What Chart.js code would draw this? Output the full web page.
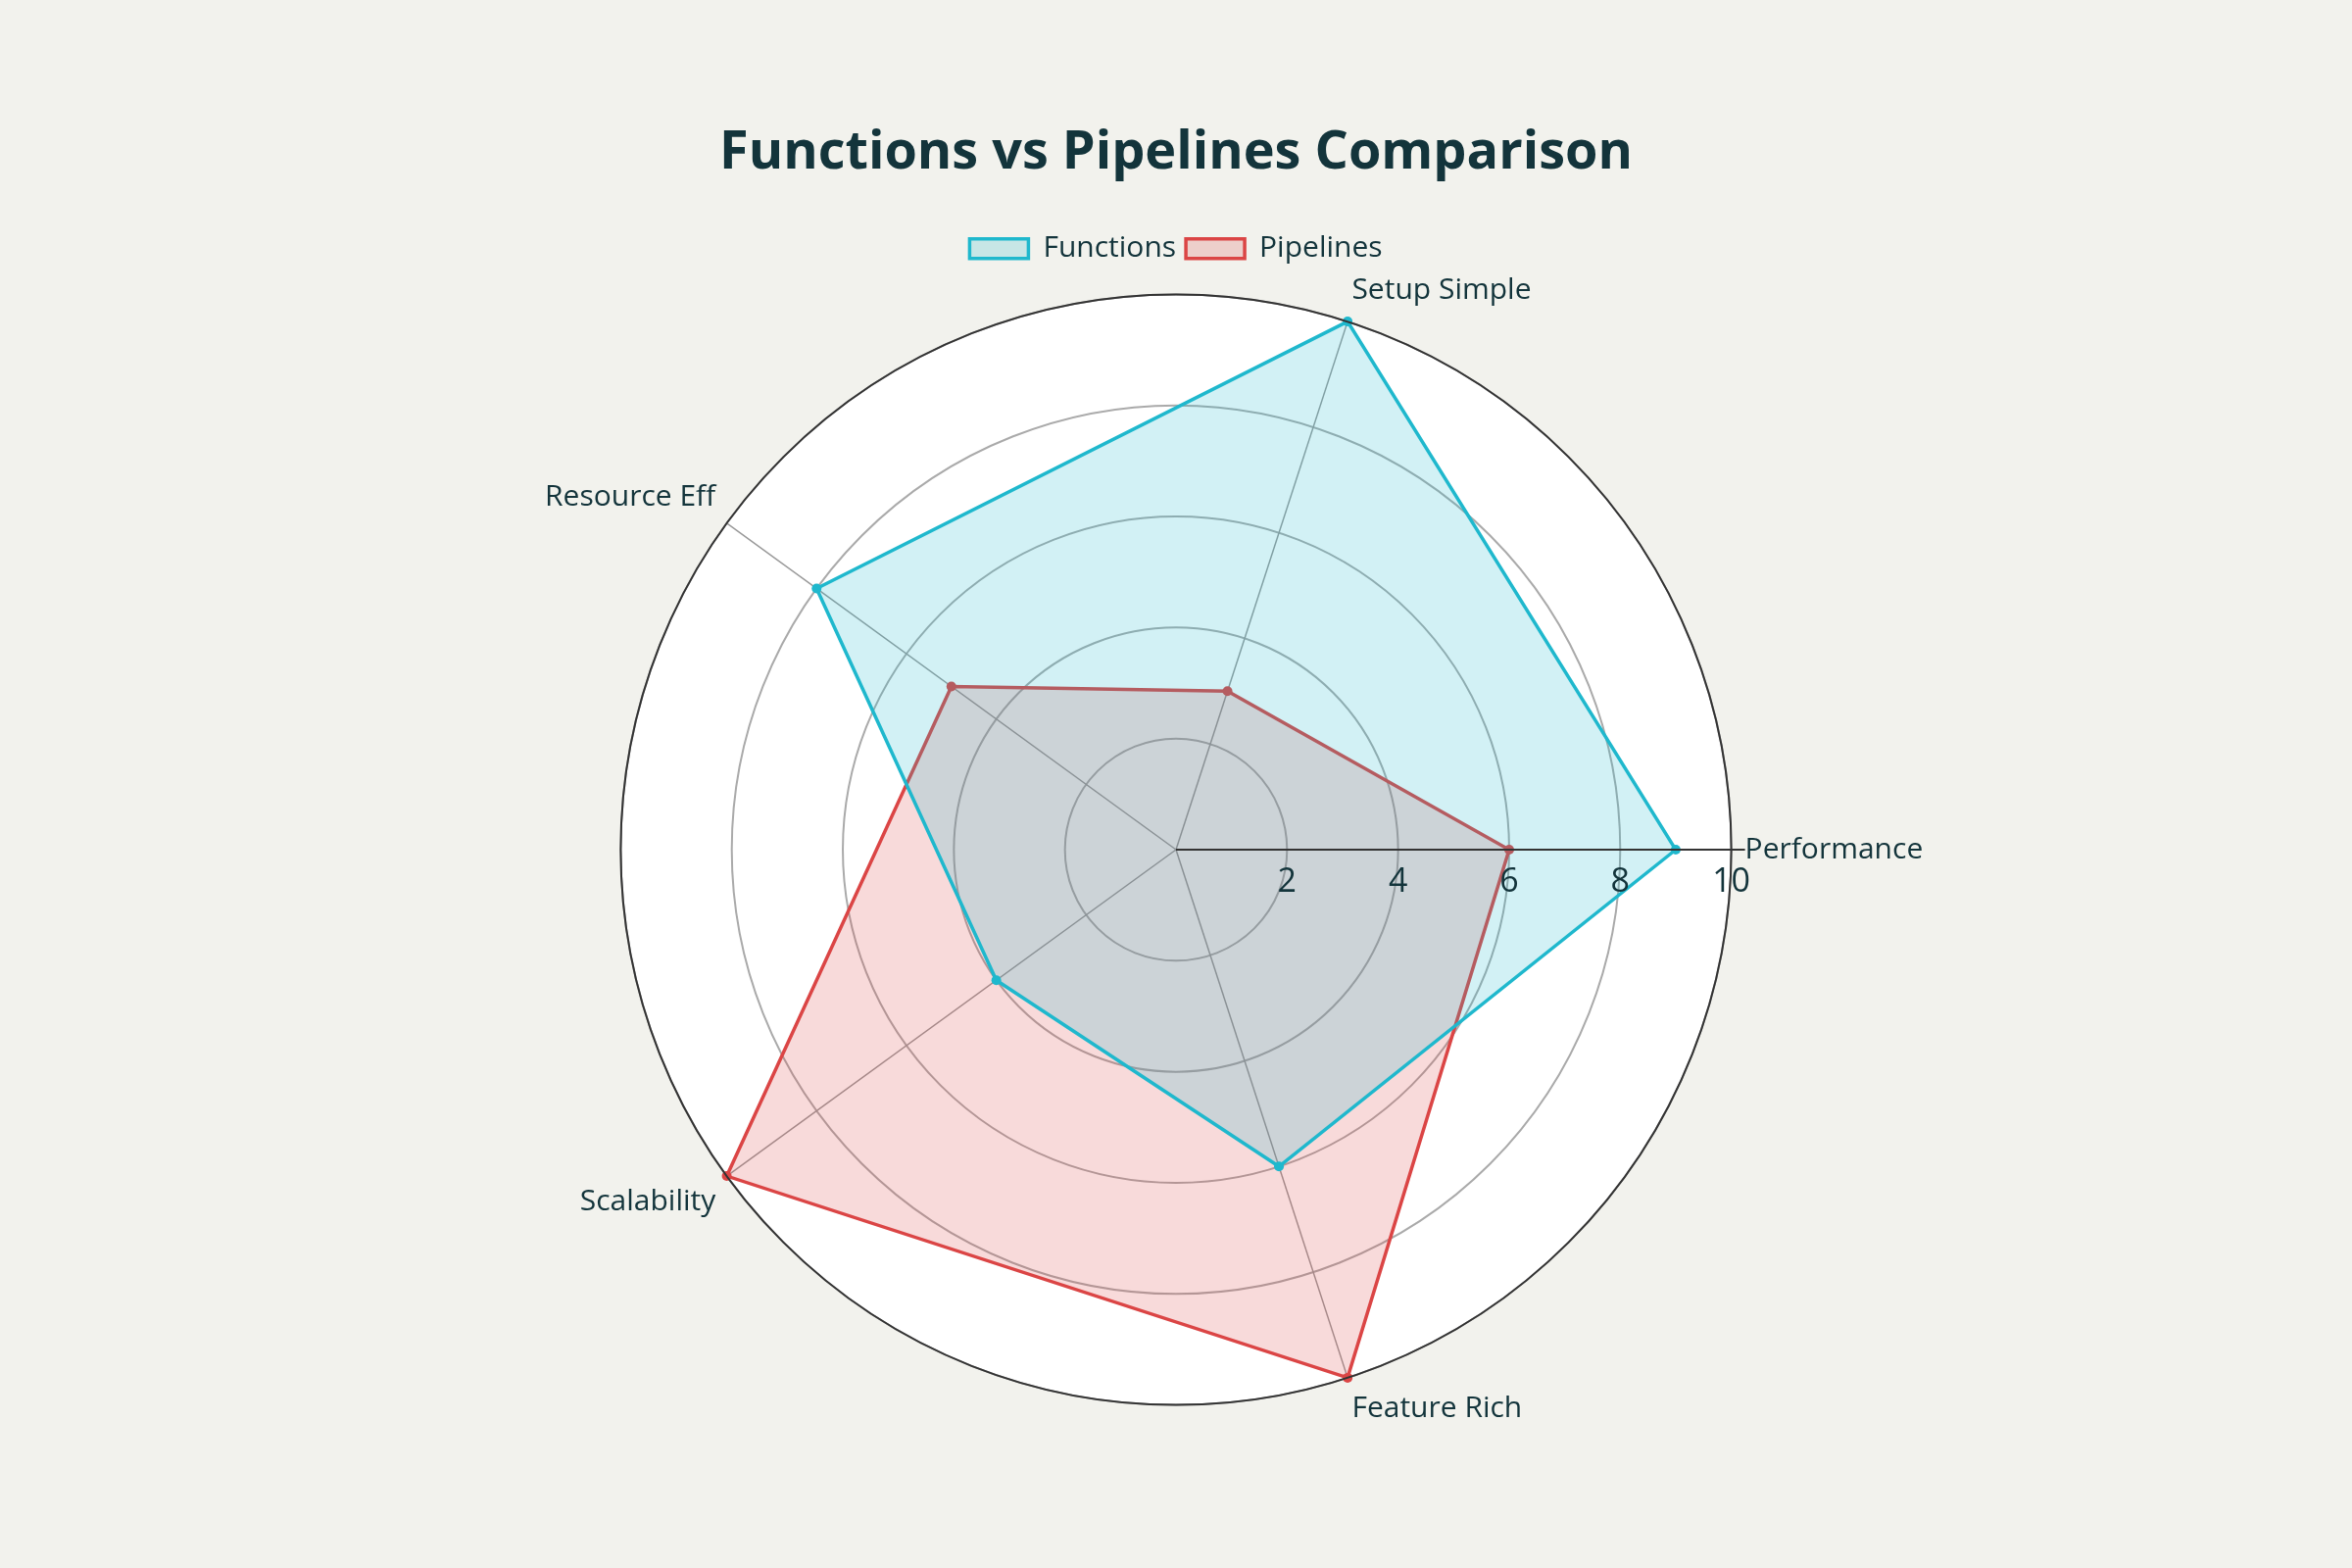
<!DOCTYPE html>
<html><head><meta charset="utf-8">
<script src="https://cdn.jsdelivr.net/npm/chart.js@4"></script>
<style>html,body{margin:0;padding:0;background:#f2f2ed;}#w{width:2400px;height:1600px;}</style>
</head><body><div id="w"><canvas id="c"></canvas></div>
<script>
const categories = ["Performance","Feature Rich","Scalability","Resource Eff","Setup Simple"];
const functionsValues = [9,6,4,8,10];
const pipelinesValues = [6,10,10,5,3];
const tickLabels = [2,4,6,8,10];
const txt = '#13343b';
const bgPlugin = {
  id:'bg',
  beforeDraw(chart){
    const ctx=chart.ctx, s=chart.scales.r;
    ctx.save();
    ctx.fillStyle='#f2f2ed';ctx.fillRect(0,0,chart.width,chart.height);
    ctx.beginPath();ctx.arc(s.xCenter,s.yCenter,s.drawingArea,0,Math.PI*2);
    ctx.fillStyle='#ffffff';ctx.fill();
    ctx.restore();
  },
  afterDatasetsDraw(chart){
    const ctx=chart.ctx, s=chart.scales.r;
    ctx.save();
    ctx.beginPath();ctx.arc(s.xCenter,s.yCenter,s.drawingArea,0,Math.PI*2);
    ctx.strokeStyle='#333';ctx.lineWidth=2;ctx.stroke();
    ctx.beginPath();ctx.moveTo(s.xCenter,s.yCenter);ctx.lineTo(s.xCenter+s.drawingArea+14,s.yCenter);ctx.stroke();
    ctx.fillStyle=txt;ctx.font='34px "Open Sans", sans-serif';ctx.textAlign='center';ctx.textBaseline='top';
    tickLabels.forEach(v=>{ctx.fillText(String(v),s.xCenter+s.getDistanceFromCenterForValue(v),s.yCenter+16);});
    ctx.restore();
  }
};
new Chart(document.getElementById('c'),{
  type:'radar',
  data:{labels:categories,datasets:[
    {label:'Functions',data:functionsValues,borderColor:'#1fb8cd',backgroundColor:'rgba(31,184,205,0.2)',borderWidth:3.5,pointRadius:5,pointBackgroundColor:'#1fb8cd',pointBorderWidth:0,fill:true},
    {label:'Pipelines',data:pipelinesValues,borderColor:'#db4545',backgroundColor:'rgba(219,69,69,0.2)',borderWidth:3.5,pointRadius:5,pointBackgroundColor:'#db4545',pointBorderWidth:0,fill:true}
  ]},
  options:{responsive:true,maintainAspectRatio:false,devicePixelRatio:1,animation:false,
    layout:{padding:{top:64,bottom:144,left:0,right:0}},
    plugins:{
      title:{display:true,text:'Functions vs Pipelines Comparison',color:txt,font:{size:54,weight:'bold',family:'"Open Sans", sans-serif'},padding:{top:60,bottom:40}},
      legend:{labels:{color:txt,font:{size:30,family:'"Open Sans", sans-serif'},boxWidth:60,boxHeight:20}},
      tooltip:{enabled:false}
    },
    scales:{r:{min:0,max:10,startAngle:90,
      ticks:{display:false,stepSize:2},
      grid:{circular:true,color:'#aaaaaa',lineWidth:2},
      angleLines:{color:'#999999',lineWidth:1.5},
      pointLabels:{color:txt,font:{size:30,family:'"Open Sans", sans-serif'},padding:14}
    }}
  },
  plugins:[bgPlugin]
});
</script></body></html>
